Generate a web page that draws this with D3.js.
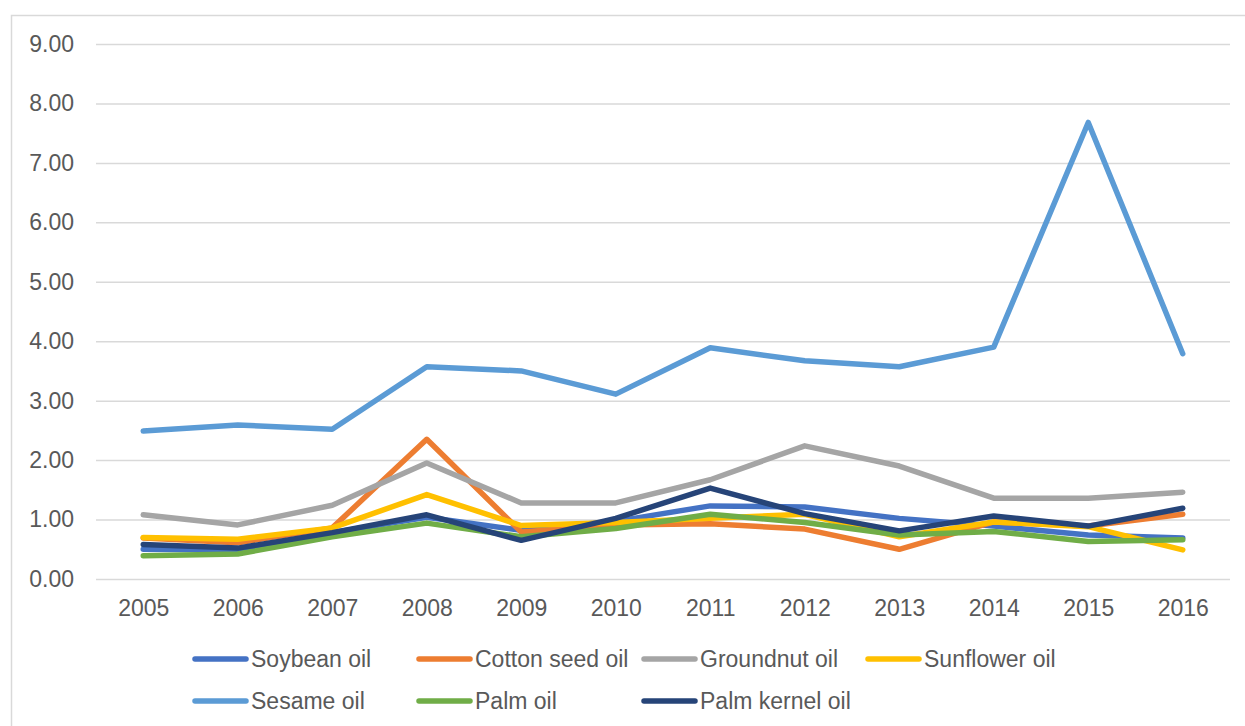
<!DOCTYPE html>
<html>
<head>
<meta charset="utf-8">
<script src="https://cdn.jsdelivr.net/npm/d3@7"></script>
<style>
  body { margin: 0; background: #fff; }
  svg { display: block; }
  text { font-family: "Liberation Sans", Arial, sans-serif; fill: #595959; }
</style>
</head>
<body>
<div id="chart"></div>
<script>
const WIDTH = 1245, HEIGHT = 726;

// data
const years = ["2005","2006","2007","2008","2009","2010","2011","2012","2013","2014","2015","2016"];
const yTicks = [0,1,2,3,4,5,6,7,8,9];

const soybean    = [0.50,0.49,0.78,1.04,0.82,0.97,1.23,1.21,1.02,0.89,0.74,0.69];
const cottonSeed = [0.69,0.61,0.86,2.35,0.79,0.91,0.93,0.84,0.50,0.96,0.89,1.09];
const groundnut  = [1.08,0.91,1.24,1.95,1.28,1.28,1.67,2.24,1.90,1.36,1.36,1.46];
const sunflower  = [0.70,0.67,0.86,1.42,0.90,0.95,1.02,1.09,0.71,0.96,0.88,0.49];
const sesame     = [2.49,2.59,2.52,3.57,3.50,3.11,3.89,3.67,3.57,3.90,7.68,3.79];
const palm       = [0.39,0.42,0.71,0.94,0.71,0.85,1.09,0.95,0.74,0.80,0.63,0.66];
const palmKernel = [0.58,0.52,0.78,1.08,0.65,1.02,1.53,1.10,0.81,1.06,0.89,1.19];

const seriesNames = ["Soybean oil","Cotton seed oil","Groundnut oil","Sunflower oil","Sesame oil","Palm oil","Palm kernel oil"];
const seriesValues = [soybean,cottonSeed,groundnut,sunflower,sesame,palm,palmKernel];
const colors = ["#4472c4","#ed7d31","#a5a5a5","#ffc000","#5b9bd5","#70ad47","#264478"];

const series = seriesNames.map((name,i)=>({name:name, values:seriesValues[i], color:colors[i]}));

const svg = d3.select("#chart").append("svg")
    .attr("width", WIDTH)
    .attr("height", HEIGHT);

// chart area border
svg.append("rect")
    .attr("x", 11.5).attr("y", 15.5)
    .attr("width", WIDTH).attr("height", HEIGHT)
    .style("fill", "none")
    .style("stroke", "#d9d9d9")
    .style("stroke-width", 1.5);

const x = d3.scalePoint()
    .domain(years)
    .range([96, 1230])
    .padding(0.5);

const y = d3.scaleLinear()
    .domain([0, 9])
    .range([579, 44]);

// gridlines + y labels
const yAxis = d3.axisLeft(y)
    .tickValues(yTicks)
    .tickSize(-(1230-96))
    .tickPadding(22)
    .tickFormat(d3.format(".2f"));

const gy = svg.append("g")
    .attr("transform", "translate(96,0)")
    .call(yAxis);
gy.select(".domain").remove();
gy.selectAll(".tick line")
    .style("stroke", "#d9d9d9")
    .style("stroke-width", 1.5);
gy.selectAll(".tick text")
    .style("font-size", "23px")
    .style("fill", "#595959");

// x labels
const xAxis = d3.axisBottom(x).tickSize(0).tickPadding(21);
const gx = svg.append("g")
    .attr("transform", "translate(0,579)")
    .call(xAxis);
gx.select(".domain").remove();
gx.selectAll(".tick text")
    .style("font-size", "23px")
    .style("fill", "#595959");

// lines
const line = d3.line()
    .x((d,i) => x(years[i]))
    .y(d => y(d));

svg.append("g").selectAll("path")
    .data(series).enter()
    .append("path")
    .attr("d", d => line(d.values))
    .style("fill", "none")
    .style("stroke", d => d.color)
    .style("stroke-width", 5.5)
    .style("stroke-linejoin", "round")
    .style("stroke-linecap", "round");

// legend: 4 per row
const legendCols = [193, 417, 642, 866];
const legendRows = [659, 701];
const legend = svg.append("g").selectAll("g")
    .data(series).enter()
    .append("g")
    .attr("transform", (d,i) => "translate(" + legendCols[i % 4] + "," + legendRows[Math.floor(i / 4)] + ")");

legend.append("line")
    .attr("x1", 2).attr("x2", 53)
    .attr("y1", 0).attr("y2", 0)
    .style("stroke", d => d.color)
    .style("stroke-width", 5.5)
    .style("stroke-linecap", "round");

legend.append("text")
    .attr("x", 58)
    .attr("y", 0)
    .attr("dy", "0.35em")
    .style("font-size", "23px")
    .text(d => d.name);
</script>
</body>
</html>
